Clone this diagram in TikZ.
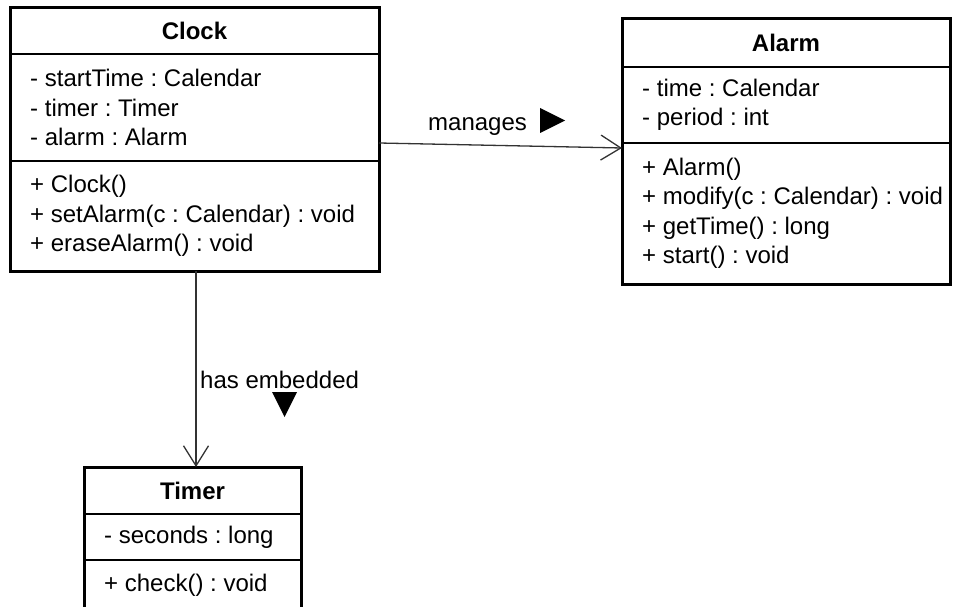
\documentclass[tikz,border=0pt]{standalone}
\usepackage{fontspec}
\setmainfont{Liberation Sans}
\usetikzlibrary{arrows.meta,positioning}
\frenchspacing

\newcommand{\umlfont}{\fontsize{24}{29.5}\selectfont}

\tikzset{
  classpart/.style={draw, line width=1.2pt, inner sep=0pt, outer sep=0pt},
  classtitle/.style={classpart, font=\umlfont\bfseries},
  members/.style={align=left, inner sep=0pt},
  classframe/.style={line width=3pt},
  assoc/.style={draw=black!80, line width=1.3pt,
    -{Straight Barb[length=20pt,width=25pt,line width=1.3pt]}},
}

\begin{document}
\begin{tikzpicture}[x=1pt, y=-1pt, font=\umlfont]
		\useasboundingbox (0,0) rectangle (953,607);
		% класс Clock
		\node [classtitle, minimum width=369pt, minimum height=46pt, anchor=north west] (clockT) at (10,8) {Clock};
		\node [classpart, minimum width=369pt, minimum height=107pt, below=0pt of clockT] (clockA) {};
		\node [classpart, minimum width=369pt, minimum height=110pt, below=0pt of clockA] (clockM) {};
		\draw [classframe] (clockT.north west) rectangle (clockM.south east);
		\node [members, right=20pt of clockA.west] (clockAtext) {- startTime : Calendar\\- timer : Timer\\- alarm : Alarm};
		\node [members, right=20pt of clockM.west] (clockMtext) {+ Clock()\\+ setAlarm(c : Calendar) : void\\+ eraseAlarm() : void};
		% класс Alarm
		\node [classtitle, minimum width=328pt, minimum height=48pt, anchor=north west] (alarmT) at (622,19) {Alarm};
		\node [classpart, minimum width=328pt, minimum height=76pt, below=0pt of alarmT] (alarmA) {};
		\node [classpart, minimum width=328pt, minimum height=141pt, below=0pt of alarmA] (alarmM) {};
		\draw [classframe] (alarmT.north west) rectangle (alarmM.south east);
		\node [members, right=20pt of alarmA.west] (alarmAtext) {- time : Calendar\\- period : int};
		\node [members, right=20pt of alarmM.west] (alarmMtext) {+ Alarm()\\+ modify(c : Calendar) : void\\+ getTime() : long\\+ start() : void};
		% класс Timer
		\node [classtitle, minimum width=217pt, minimum height=47pt, anchor=north west] (timerT) at (84,467) {Timer};
		\node [classpart, minimum width=217pt, minimum height=46pt, below=0pt of timerT] (timerA) {};
		\node [classpart, minimum width=217pt, minimum height=50pt, below=0pt of timerA] (timerM) {};
		\draw [classframe] (timerT.north west) rectangle (timerM.south east);
		\node [members, right=20pt of timerA.west] (timerAtext) {- seconds : long};
		\node [members, right=20pt of timerM.west] (timerMtext) {+ check() : void};
		% связи
		\draw [assoc] ([yshift=-35.5pt]clockA.east) -- ([yshift=-5pt]alarmM.north west);
		\draw [assoc] ([xshift=1.5pt]clockM.south) -- ([xshift=3.5pt]timerT.north);
		% подписи
		\node [anchor=base west, inner sep=0pt] (managesL) at (428,131) {manages};
		\fill ([xshift=13pt,yshift=-2pt]managesL.base east) -- ++(0,-25) -- ++(25,12.5) -- cycle;
		\node [anchor=base west, inner sep=0pt] (embeddedL) at (200,388) {has embedded};
		\fill ([xshift=72pt,yshift=-4pt]embeddedL.base west) -- ++(25,0) -- ++(-12.5,25) -- cycle;
\end{tikzpicture}
\end{document}
